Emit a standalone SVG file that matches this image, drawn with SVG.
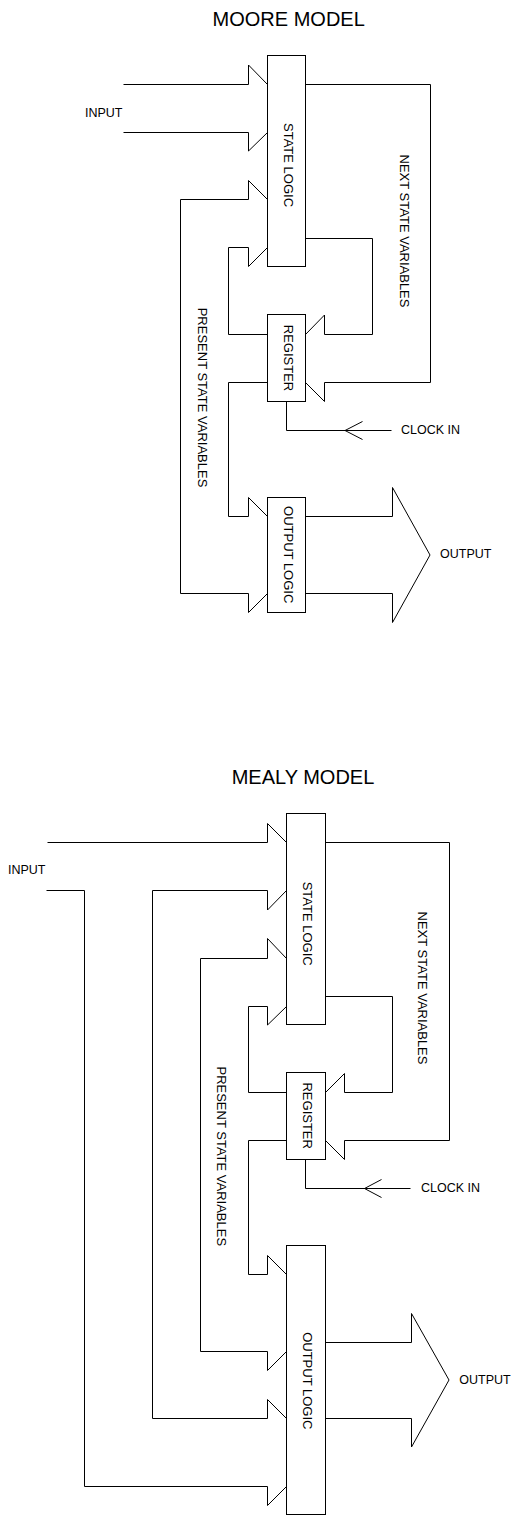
<svg xmlns="http://www.w3.org/2000/svg" width="520" height="1516" viewBox="0 0 520 1516">
<style>
.box{fill:#fff;stroke:#000;stroke-width:1}
.ln{fill:none;stroke:#000;stroke-width:1}
.t{font-family:"Liberation Sans",Arial,sans-serif;fill:#000}
.title{font-size:20px}
.lbl{font-size:12.5px}
.rot{font-size:13px;text-anchor:middle}
</style>
<rect width="520" height="1516" fill="#fff"/>

<!-- MOORE MODEL -->
<text class="t title" x="288.7" y="26" text-anchor="middle">MOORE MODEL</text>
<text class="t lbl" x="85" y="117">INPUT</text>

<g id="moore-connectors">
<path class="ln" d="M123.5,84.5 H248.5 V65 L267.5,84.5"/>
<path class="ln" d="M123.5,132.5 H248.5 V151 L267.5,132.5"/>
<path class="ln" d="M267.5,593.5 L248.5,612.5 V593.5 H180.5 V199.5 H248.5 V180.5 L267.5,199.5"/>
<path class="ln" d="M267.5,334.5 H228.5 V247.5 H248.5 V266.5 L267.5,247.5"/>
<path class="ln" d="M305.5,238.5 H372.5 V334.5 H324.5 V315 L305.5,334.5"/>
<path class="ln" d="M305.5,84.5 H430.5 V382.5 H324.5 V401.5 L305.5,382.5"/>
<path class="ln" d="M267.5,382.5 H228.5 V516.5 H248.5 V497.5 L267.5,516.5"/>
<path class="ln" d="M286.5,401.5 V430.5 H391.5"/>
<path class="ln" d="M362.5,421.5 L345,430.5 L362.5,439.5"/>
<path class="ln" d="M305.5,516.5 H392.5 V487.5 L430,555 L392.5,622.5 V593.5 H305.5"/>
</g>

<g id="moore-state-logic">
<rect class="box" x="267.5" y="55.5" width="38" height="211"/>
<text class="t rot" transform="translate(289,165) rotate(90)" dy="0.36em">STATE LOGIC</text>
</g>
<g id="moore-register">
<rect class="box" x="267.5" y="314.5" width="38" height="87"/>
<text class="t rot" transform="translate(289,358) rotate(90)" dy="0.36em">REGISTER</text>
</g>
<g id="moore-output-logic">
<rect class="box" x="267.5" y="497.5" width="38" height="115"/>
<text class="t rot" transform="translate(289,554.7) rotate(90)" dy="0.36em">OUTPUT LOGIC</text>
</g>
<text class="t rot" transform="translate(404.7,231) rotate(90)" dy="0.36em">NEXT STATE VARIABLES</text>
<text class="t rot" transform="translate(202.5,397.5) rotate(90)" dy="0.36em">PRESENT STATE VARIABLES</text>
<text class="t lbl" x="401" y="433.5">CLOCK IN</text>
<text class="t lbl" x="440" y="558">OUTPUT</text>

<!-- MEALY MODEL -->
<text class="t title" x="303" y="784" text-anchor="middle">MEALY MODEL</text>
<text class="t lbl" x="8" y="874">INPUT</text>

<g id="mealy-connectors">
<path class="ln" d="M47.5,842.5 H267.5 V823.5 L286.5,842.5"/>
<path class="ln" d="M46.5,890.5 H84.5 V1486.5 H267.5 V1505.5 L286.5,1486.5"/>
<path class="ln" d="M286.5,1418.5 L267.5,1399.5 V1418.5 H152.5 V890.5 H267.5 V910 L286.5,890.5"/>
<path class="ln" d="M286.5,958.5 L267.5,938.5 V958.5 H200.5 V1351.5 H267.5 V1370.5 L286.5,1351.5"/>
<path class="ln" d="M286.5,1092.5 H248.5 V1006.5 H267.5 V1025 L286.5,1006.5"/>
<path class="ln" d="M325.5,996.5 H392.5 V1092.5 H344.5 V1073.5 L325.5,1092.5"/>
<path class="ln" d="M325.5,842.5 H449.5 V1140.5 H344.5 V1159.5 L325.5,1140.5"/>
<path class="ln" d="M286.5,1140.5 H248.5 V1274.5 H267.5 V1255.5 L286.5,1274.5"/>
<path class="ln" d="M305.5,1159.5 V1188.5 H410.5"/>
<path class="ln" d="M381.5,1179.5 L364.5,1188.5 L381.5,1197.5"/>
<path class="ln" d="M325.5,1342.5 H411.5 V1313.5 L449,1380 L411.5,1447 V1418.5 H325.5"/>
</g>

<g id="mealy-state-logic">
<rect class="box" x="286.5" y="813.5" width="39" height="211"/>
<text class="t rot" transform="translate(308,923.7) rotate(90)" dy="0.36em">STATE LOGIC</text>
</g>
<g id="mealy-register">
<rect class="box" x="286.5" y="1072.5" width="39" height="87"/>
<text class="t rot" transform="translate(307.7,1115.7) rotate(90)" dy="0.36em">REGISTER</text>
</g>
<g id="mealy-output-logic">
<rect class="box" x="286.5" y="1245.5" width="39" height="269"/>
<text class="t rot" transform="translate(307.8,1380.8) rotate(90)" dy="0.36em">OUTPUT LOGIC</text>
</g>
<text class="t rot" transform="translate(423,988) rotate(90)" dy="0.36em">NEXT STATE VARIABLES</text>
<text class="t rot" transform="translate(221.7,1156.3) rotate(90)" dy="0.36em">PRESENT STATE VARIABLES</text>
<text class="t lbl" x="421" y="1192">CLOCK IN</text>
<text class="t lbl" x="459.3" y="1383.5">OUTPUT</text>
</svg>
